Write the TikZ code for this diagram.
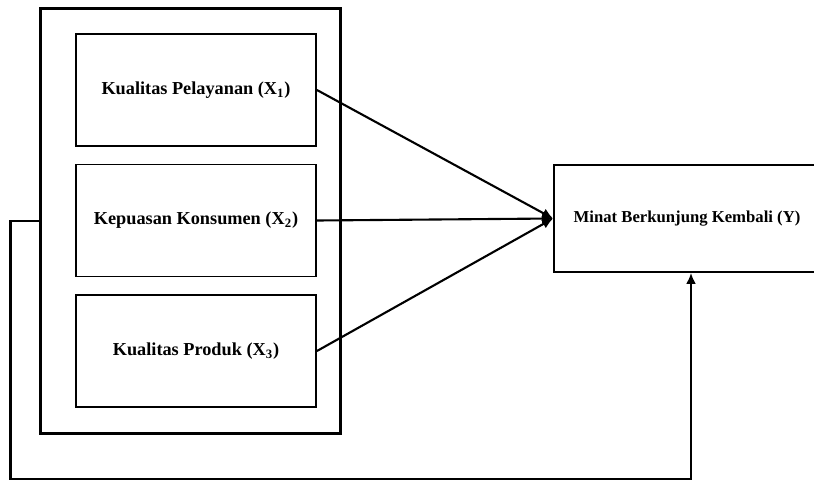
\documentclass[tikz,border=0pt]{standalone}
\usepackage{fontspec}
\setmainfont{Liberation Serif}
\usetikzlibrary{arrows.meta}

\begin{document}
\begin{tikzpicture}[x=0.02cm,y=0.02cm,
  var/.style={draw,line width=1.1pt,minimum width=4.8cm,minimum height=2.24cm,
    font=\fontsize{10.4}{12}\selectfont\bfseries,inner sep=0pt},
  link/.style={line width=1.2pt,-{Latex[length=2.2mm,width=2mm]}}]
{
\useasboundingbox (0,0) rectangle (814,481);
\node[draw,line width=1.7pt,minimum width=6.02cm,minimum height=8.52cm] (outer) at (190.5,260) {};
\node[var] (x1) at (196,391) {Kualitas Pelayanan (X\textsubscript{1})};
\node[var] (x2) at (196,260.5) {Kepuasan Konsumen (X\textsubscript{2})};
\node[var] (x3) at (196,130) {Kualitas Produk (X\textsubscript{3})};
\node[var,minimum width=5.32cm,minimum height=2.14cm,font=\fontsize{9.5}{11}\selectfont\bfseries] (y) at (687,262.5) {Minat Berkunjung Kembali (Y)};
%
\foreach \v in {x1,x2,x3}{
\draw[link] (\v.east) -- (y.west);
}
\coordinate (fb) at (691,2);
\draw[link] (outer.west) -- ++(-28,0) |- (fb) -- (fb |- y.south);
}
\end{tikzpicture}
\end{document}
